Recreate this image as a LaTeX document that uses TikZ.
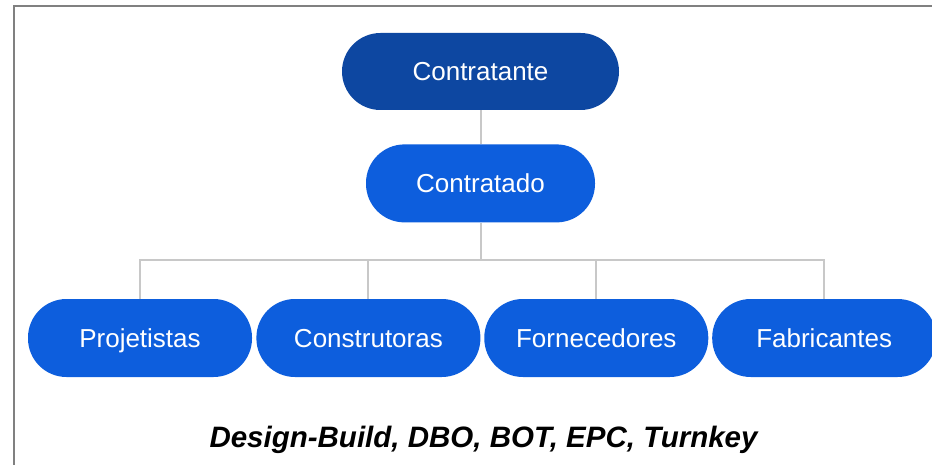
\documentclass[tikz,border=0pt]{standalone}
\usepackage{fontspec}
\setmainfont{Liberation Sans}
\usepackage{tikz}
\usetikzlibrary{positioning}
\definecolor{darkblue}{HTML}{0D47A1}
\definecolor{midblue}{HTML}{0D5EDD}
\definecolor{linegray}{HTML}{C8C8C8}
\definecolor{framegray}{HTML}{808080}
\tikzstyle{pill}=[%
      rectangle, rounded corners=38.5pt, draw=none, fill=midblue, text=white,
      minimum height=78pt, minimum width=224pt, inner sep=0pt,
      text height=18.6pt, text depth=0pt,
      font=\fontsize{26}{30}\selectfont
]
\tikzstyle{boss}=[%
      pill, fill=darkblue, minimum width=277pt, minimum height=77pt
]
\tikzstyle{conn}=[%
      draw=linegray, line width=2pt
]
\begin{document}
\begin{tikzpicture}[x=1pt, y=-1pt]
    \useasboundingbox (0,0) rectangle (932,465);
    \draw[framegray, line width=2pt] (14,466) -- (14,6) -- (933,6);

    \node[boss]                   (top)  at (480.5,71.5) {Contratante};
    \node[pill, minimum width=229pt] (mid)  [below = 34pt of top] {Contratado};
    \node[pill]                   (proj) at (140,338)  {Projetistas};
    \node[pill]                   (cons) [right = 4pt of proj] {Construtoras};
    \node[pill]                   (forn) [right = 3.5pt of cons] {Fornecedores};
    \node[pill]                   (fabr) [right = 3.5pt of forn] {Fabricantes};
    \coordinate (hub) at (480.5,260);

    \path[conn] (top) -- (mid)
                (mid) -- (hub);
    \foreach \n in {proj, cons, forn, fabr}
        \path[conn] (hub) -| (\n);

    \node[anchor=base, font=\fontsize{29.5}{33}\selectfont\bfseries\itshape]
        (tag) at (483.5,447) {Design-Build, DBO, BOT, EPC, Turnkey};
\end{tikzpicture}
\end{document}
